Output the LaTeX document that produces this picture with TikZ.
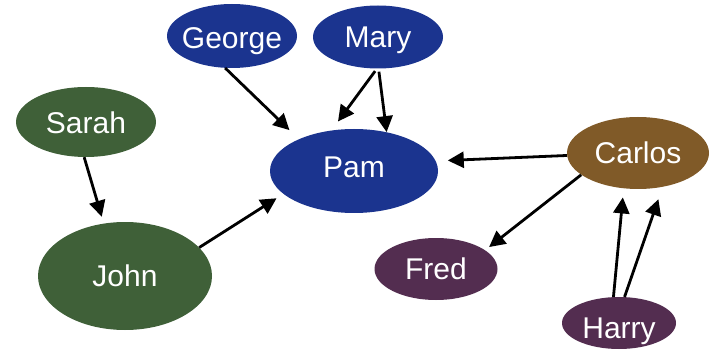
\documentclass[tikz,border=0pt]{standalone}
\usepackage{fontspec}
\setmainfont{Liberation Sans}
\usetikzlibrary{shapes.geometric,arrows.meta}
\definecolor{pblue}{RGB}{27,52,143}
\definecolor{pgreen}{RGB}{63,96,56}
\definecolor{pbrown}{RGB}{128,90,40}
\definecolor{ppurple}{RGB}{83,45,80}
\begin{document}
\begin{tikzpicture}[x=1pt,y=-1pt,
  person/.style={ellipse, inner sep=0pt, text=white,
    font=\fontsize{30}{36}\selectfont, text height=21.5pt, text depth=0pt},
  link/.style={-{Triangle[length=16pt,width=16pt]}, line width=2.8pt, black}]
\useasboundingbox (0,0) rectangle (710,350);

% people
\node[person, fill=pblue, minimum width=130pt, minimum height=64pt] (george) at (232,36) {\makebox[0pt]{\raisebox{-2pt}{George}}};
\node[person, fill=pblue, minimum width=130pt, minimum height=63pt] (mary) at (378,37) {\makebox[0pt]{Mary}};
\node[person, fill=pgreen, minimum width=140pt, minimum height=70pt] (sarah) at (86,122) {\makebox[0pt]{\raisebox{-1pt}{Sarah}}};
\node[person, fill=pblue, minimum width=168pt, minimum height=84pt] (pam) at (354,171) {\makebox[0pt]{\raisebox{4pt}{Pam}}};
\node[person, fill=pbrown, minimum width=142pt, minimum height=72pt] (carlos) at (638,153) {\makebox[0pt]{Carlos}};
\node[person, fill=pgreen, minimum width=174pt, minimum height=108pt] (john) at (125,276) {\makebox[0pt]{John}};
\node[person, fill=ppurple, minimum width=123pt, minimum height=62pt] (fred) at (436,269) {\makebox[0pt]{Fred}};
\node[person, fill=ppurple, minimum width=114pt, minimum height=52pt] (harry) at (619,323) {\makebox[0pt]{\raisebox{-5pt}{Harry}}};

% relations
\draw[link, shorten >=13pt] (george.-102) -- (pam.150);
\draw[link, shorten <=3pt, shorten >=11pt] (mary.-92) -- (pam.119);
\draw[link, shorten <=3pt] (mary.-89) -- (pam.50);
\draw[link, shorten >=7pt] (sarah.-93) -- (john.112);
\draw[link, shorten >=8pt] (john.21) -- (pam.198);
\draw[link, shorten >=12pt] (carlos.182) -- (pam.7);
\draw[link, shorten >=5pt] (carlos.201) -- (fred.21);
\draw[link, shorten >=9pt] (harry.102) -- (carlos.248);
\draw[link, shorten >=13pt] (harry.78) -- (carlos.-54);
\end{tikzpicture}
\end{document}
